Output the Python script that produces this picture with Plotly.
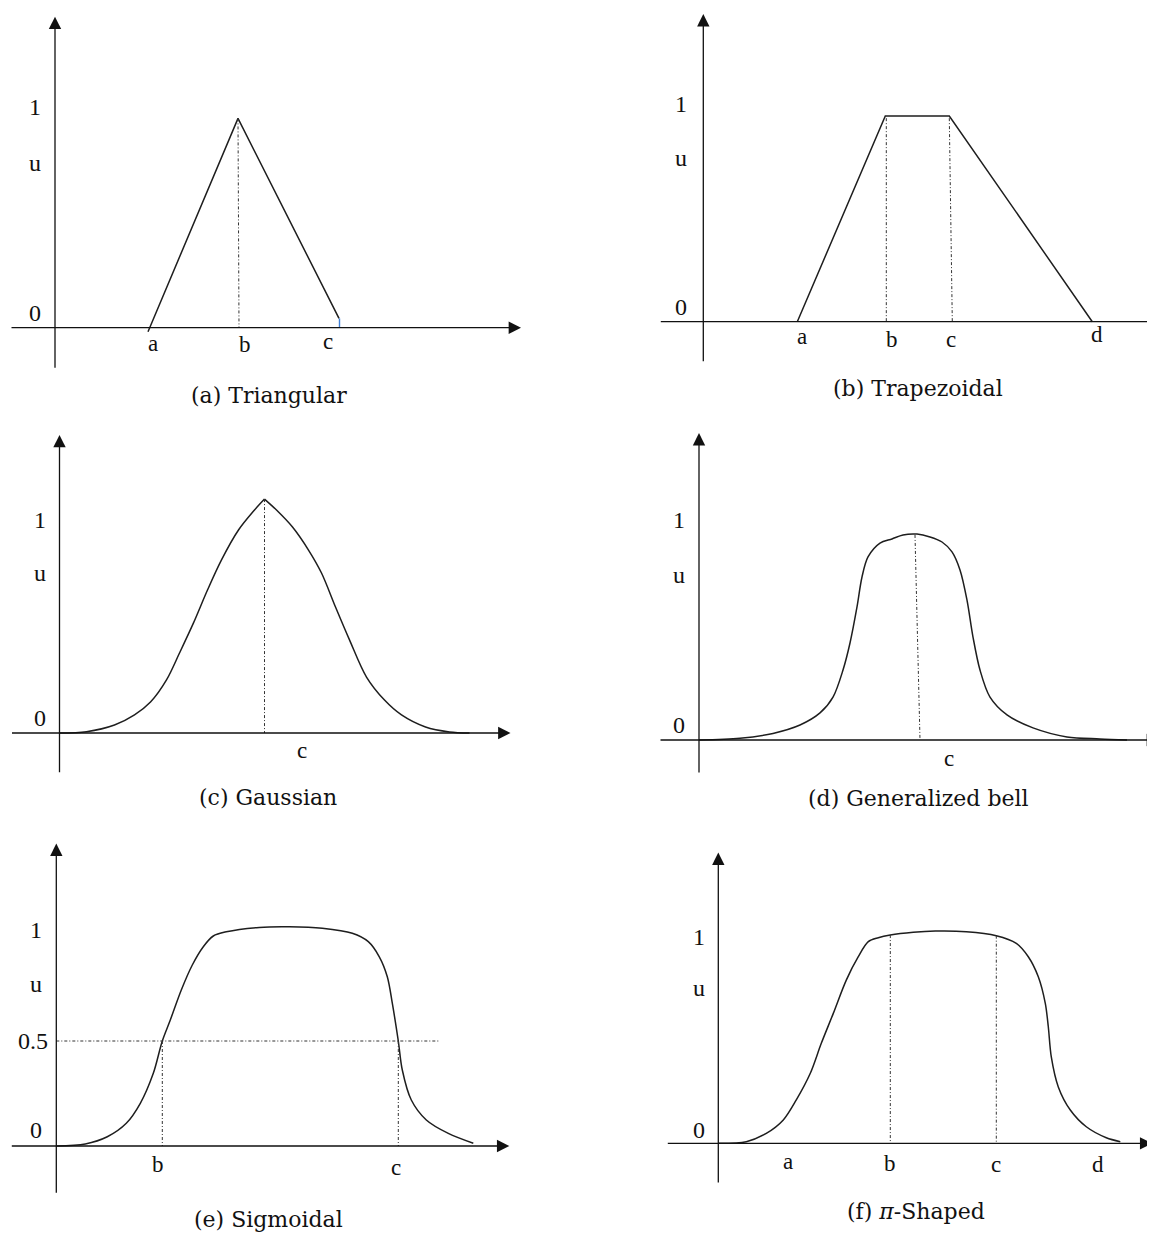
import plotly.graph_objects as go

PAGE_W, PAGE_H = 1155, 1236
OFF = 8  # default body margin of the html page
W, H = PAGE_W - OFF, PAGE_H - OFF
SX = 10  # pixels per x unit in every panel

# ---- (a) Triangular ----
tri_x = [9.3, 18.3, 28.4]
tri_u = [-0.018, 0.947, 0.042]
tri_ticks = ["a", "b", "c"]
tri_tick_x = [9.8, 19.0, 27.3]
tri_tick_u = [-0.070, -0.078, -0.063]

# ---- (b) Trapezoidal ----
trap_x = [9.4, 18.2, 24.6, 38.9]
trap_u = [0.0, 0.945, 0.945, 0.0]
trap_ticks = ["a", "b", "c", "d"]
trap_tick_x = [9.9, 18.9, 24.8, 39.4]
trap_tick_u = [-0.069, -0.084, -0.084, -0.061]

# ---- (c) Gaussian (rising side, falling side) ----
gauss_left_x = [0, 2.7, 5.5, 7.5, 9.1, 10.7, 12.0, 13.4, 14.8, 16.2, 17.9, 19.5, 20.5]
gauss_left_u = [0, 0.006, 0.037, 0.084, 0.144, 0.247, 0.372, 0.512, 0.665, 0.805, 0.944, 1.037, 1.088]
gauss_right_x = [20.5, 21.7, 23.3, 24.9, 26.2, 27.6, 29.0, 30.7, 32.5, 34.2, 36.6, 39.0, 41.0]
gauss_right_u = [1.088, 1.037, 0.958, 0.851, 0.744, 0.586, 0.433, 0.260, 0.153, 0.084, 0.028, 0.005, 0]

# ---- (d) Generalized bell ----
bell_x = [0, 4.1, 7.4, 10.1, 12.1, 13.4, 14.4, 15.1, 15.8, 16.3, 16.9, 18.1, 19.3, 20.4,
          21.8, 23.1, 24.3, 25.3, 26.1, 26.8, 27.4, 28.1, 29.1, 30.8, 33.4, 36.8, 40.1, 42.8]
bell_u = [0, 0.008, 0.030, 0.068, 0.123, 0.195, 0.318, 0.441, 0.605, 0.741, 0.832, 0.895, 0.914, 0.932,
          0.936, 0.923, 0.900, 0.855, 0.773, 0.636, 0.468, 0.318, 0.195, 0.114, 0.055, 0.014, 0.005, 0]
bell_center_x = [21.6, 22.1]
bell_center_u = [0.932, 0.0]

# ---- (e) Sigmoidal ----
sig_x = [0, 2.9, 5.1, 7.0, 8.4, 9.7, 10.6, 11.4, 12.5, 13.6, 14.7, 15.7, 17.0, 20.3, 23.3,
         26.6, 29.6, 31.2, 32.3, 33.1, 33.6, 34.2, 34.6, 35.5, 37.0, 39.2, 41.7]
sig_u = [0, 0.010, 0.044, 0.108, 0.203, 0.346, 0.5, 0.600, 0.743, 0.862, 0.949, 1.000, 1.020, 1.041, 1.044,
         1.037, 1.013, 0.973, 0.901, 0.806, 0.680, 0.5, 0.362, 0.219, 0.124, 0.060, 0.013]
sig_cross = [10.6, 34.2]
sig_half_end = 38.2
sig_ticks = ["b", "c"]
sig_tick_x = [10.2, 34.0]
sig_tick_u = [-0.09, -0.10]

# ---- (f) Pi-shaped ----
pi_x = [0, 2.8, 4.8, 6.5, 7.8, 9.2, 10.3, 11.5, 12.8, 14.0, 15.0, 16.0, 17.2, 19.5, 21.7,
        24.8, 27.8, 29.8, 31.0, 32.0, 32.7, 33.0, 33.3, 34.0, 35.2, 36.8, 38.8, 40.2]
pi_u = [0, 0.008, 0.048, 0.113, 0.210, 0.339, 0.484, 0.629, 0.790, 0.903, 0.976, 0.995, 1.008, 1.021, 1.027,
        1.024, 1.005, 0.968, 0.903, 0.806, 0.677, 0.564, 0.418, 0.273, 0.161, 0.080, 0.027, 0.008]
pi_guides_x = [17.2, 27.8]
pi_guides_u = [1.008, 1.005]
pi_ticks = ["a", "b", "c", "d"]
pi_tick_x = [7.0, 17.2, 27.8, 38.0]
pi_tick_u = [-0.09, -0.097, -0.105, -0.105]

captions = ["(a) Triangular", "(b) Trapezoidal", "(c) Gaussian",
            "(d) Generalized bell", "(e) Sigmoidal", "(f) <i>π</i>-Shaped"]

# panel placement on the page: pixel box, pixel origin, pixels per unit of u
panels = [
    dict(box=(8, 8, 577, 412), origin=(55, 327.7), sy=221),
    dict(box=(640, 8, 1155, 412), origin=(703.3, 321.7), sy=217.7),
    dict(box=(8, 415, 577, 825), origin=(59.5, 733), sy=215),
    dict(box=(640, 415, 1155, 825), origin=(699, 740), sy=220),
    dict(box=(8, 830, 577, 1236), origin=(56.3, 1146), sy=210),
    dict(box=(640, 830, 1155, 1236), origin=(718.3, 1143.3), sy=206.6),
]
# axis extents (x start, x tip, u bottom, u tip) per panel
axis_ext = [
    (-4.5, 46.6, -0.188, 1.407),
    (-4.4, 46.5, -0.188, 1.413),
    (-4.9, 45.1, -0.19, 1.386),
    (-4.0, 46.0, -0.155, 1.395),
    (-4.6, 45.3, -0.23, 1.44),
    (-5.2, 43.4, -0.197, 1.407),
]
caption_pos = [(21.35, -0.305), (21.5, -0.305), (20.85, -0.302),
               (21.9, -0.264), (21.2, -0.352), (19.8, -0.328)]
u_label_x = [-2.0, -2.2, -2.0, -2.0, -2.0, -1.9]
u_label_y = [(1.0, 0.747, 0.065), (1.0, 0.75, 0.069), (0.99, 0.744, 0.07),
             (1.0, 0.75, 0.068), (1.03, 0.77, 0.076), (1.0, 0.75, 0.064)]

LINE = "#1e1e1e"
SERIF = "Liberation Serif"
CAPTION_FONT = "DejaVu Serif"
fig = go.Figure()

for i, p in enumerate(panels):
    n = i + 1
    sfx = "" if n == 1 else str(n)
    bx0, by0, bx1, by1 = p["box"]
    ox, oy = p["origin"]
    sy = p["sy"]
    fig.update_layout(**{
        "xaxis" + sfx: dict(domain=[(bx0 - OFF) / W, min((bx1 - OFF) / W, 1)],
                            range=[(bx0 - ox) / SX, (min(bx1, OFF + W) - ox) / SX],
                            visible=False, fixedrange=True, anchor="y" + sfx),
        "yaxis" + sfx: dict(domain=[max(1 - (by1 - OFF) / H, 0), 1 - (by0 - OFF) / H],
                            range=[(oy - min(by1, OFF + H)) / sy, (oy - by0) / sy],
                            visible=False, fixedrange=True, anchor="x" + sfx),
    })


def ref(n):
    return ("x", "y") if n == 1 else (f"x{n}", f"y{n}")


def line(n, xs, ys, color=LINE, width=1.5, dash="solid", smooth=False):
    xr, yr = ref(n)
    ln = dict(color=color, width=width, dash=dash)
    if smooth:
        ln.update(shape="spline", smoothing=0.9)
    fig.add_trace(go.Scatter(x=xs, y=ys, mode="lines", xaxis=xr, yaxis=yr, showlegend=False,
                             line=ln, hoverinfo="skip"))


def guide(n, xs, ys):
    line(n, xs, ys, color="#333333", width=1, dash="3px,2px,1px,2px")


def text(n, x, y, s, size=23, family=SERIF):
    xr, yr = ref(n)
    fig.add_annotation(x=x, y=y, xref=xr, yref=yr, text=s, showarrow=False,
                       font=dict(family=family, size=size, color="#111111"))


def arrow(n, x0, y0, x1, y1):
    xr, yr = ref(n)
    fig.add_annotation(x=x1, y=y1, ax=x0, ay=y0, xref=xr, yref=yr, axref=xr, ayref=yr,
                       text="", showarrow=True, arrowhead=2, arrowsize=1.9, arrowwidth=1.3,
                       arrowcolor="#111111", standoff=0, startstandoff=0)


# axes, value labels and captions for every panel
for i in range(6):
    n = i + 1
    xs, xt, ub, ut = axis_ext[i]
    arrow(n, xs, 0, xt, 0)
    arrow(n, 0, ub, 0, ut)
    lx = u_label_x[i]
    top, mid, zero = u_label_y[i]
    text(n, lx, top, "1", size=24)
    text(n, lx, mid, "u", size=24)
    text(n, lx, zero, "0", size=24)
    cx, cy = caption_pos[i]
    text(n, cx, cy, captions[i], size=22, family=CAPTION_FONT)

# (a)
line(1, tri_x, tri_u)
guide(1, [tri_x[1], tri_x[1] + 0.1], [tri_u[1], 0])
line(1, [tri_x[2] + 0.05, tri_x[2] + 0.05], [tri_u[2], 0], color="#3f7fd6", width=1.4)
for t, x, y in zip(tri_ticks, tri_tick_x, tri_tick_u):
    text(1, x, y, t)

# (b)
line(2, trap_x, trap_u)
guide(2, [trap_x[1] + 0.1, trap_x[1] + 0.1], [trap_u[1] - 0.01, 0])
guide(2, [trap_x[2], trap_x[2] + 0.3], [trap_u[2] - 0.01, 0])
for t, x, y in zip(trap_ticks, trap_tick_x, trap_tick_u):
    text(2, x, y, t)

# (c)
line(3, gauss_left_x, gauss_left_u, smooth=True)
line(3, gauss_right_x, gauss_right_u, smooth=True)
guide(3, [gauss_left_x[-1], gauss_left_x[-1]], [gauss_left_u[-1], 0])
text(3, 24.2, -0.08, "c")

# (d)
line(4, bell_x, bell_u, smooth=True)
guide(4, bell_center_x, bell_center_u)
text(4, 25.0, -0.082, "c")

# (e)
line(5, sig_x, sig_u, smooth=True)
guide(5, [0, sig_half_end], [0.5, 0.5])
for cx in sig_cross:
    guide(5, [cx, cx], [0.5, 0])
text(5, -2.3, 0.5, "0.5", size=24)
for t, x, y in zip(sig_ticks, sig_tick_x, sig_tick_u):
    text(5, x, y, t)

# (f)
line(6, pi_x, pi_u, smooth=True)
for gx, gu in zip(pi_guides_x, pi_guides_u):
    guide(6, [gx, gx], [gu, 0])
for t, x, y in zip(pi_ticks, pi_tick_x, pi_tick_u):
    text(6, x, y, t)

fig.update_layout(width=W, height=H, margin=dict(l=0, r=0, t=0, b=0),
                  paper_bgcolor="white", plot_bgcolor="white")

fig.write_html("out.html")
